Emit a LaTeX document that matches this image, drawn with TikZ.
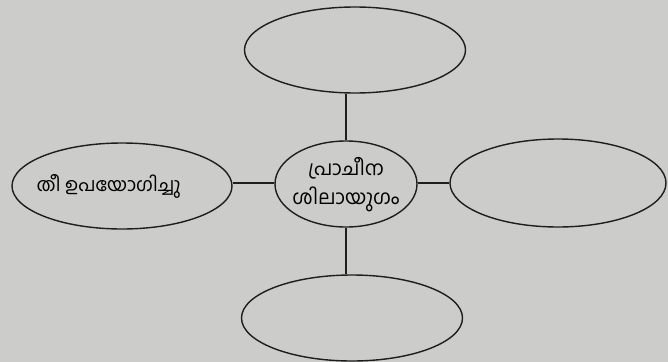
\documentclass[tikz,border=0pt]{standalone}
\usepackage{fontspec}
\newfontfamily\malfont[Script=Malayalam]{Hind Kochi}
\usetikzlibrary{positioning, shapes.geometric}
\definecolor{paper}{RGB}{204,204,202}
\definecolor{ink}{RGB}{30,30,30}

\begin{document}
\begin{tikzpicture}[x=0.03cm, y=-0.03cm,
			bubble/.style = {ellipse, draw=ink, line width = 1.2pt, inner sep = 0pt, text centered, minimum width = 221*0.03cm, minimum height = 86*0.03cm, font = \malfont\fontsize{17}{25}\selectfont},
			hub/.style = {bubble, minimum width = 142*0.03cm},
			link/.style = {draw=ink, line width = 1pt},
		]
		\fill[paper] (0,0) rectangle (668,362);
		\useasboundingbox (0,0) rectangle (668,362);

		\node[hub](C) at (346,184){\makebox[0pt]{\begin{tabular}{@{}c@{}}പ്രാചീന\\ശിലായുഗം\end{tabular}}};
		\node[bubble](T) at (355,50){};
		\node[bubble, minimum width = 220*0.03cm, font = \malfont\fontsize{16}{22}\selectfont](L) at (122,186){\makebox[0pt]{തീ ഉപയോഗിച്ചു\hspace*{0.8cm}}};
		\node[bubble, minimum width = 216*0.03cm, minimum height = 88*0.03cm](R) at (558,183){};
		\node[bubble](B) at (352,318){};

		\draw[link](C)--(C|-T.south);
		\draw[link](C.west|-0,183)--(L.east|-0,183);
		\draw[link](C.east|-0,183)--(R.west|-0,183);
		\draw[link](C)--(C|-B.north);
	\end{tikzpicture}
\end{document}
